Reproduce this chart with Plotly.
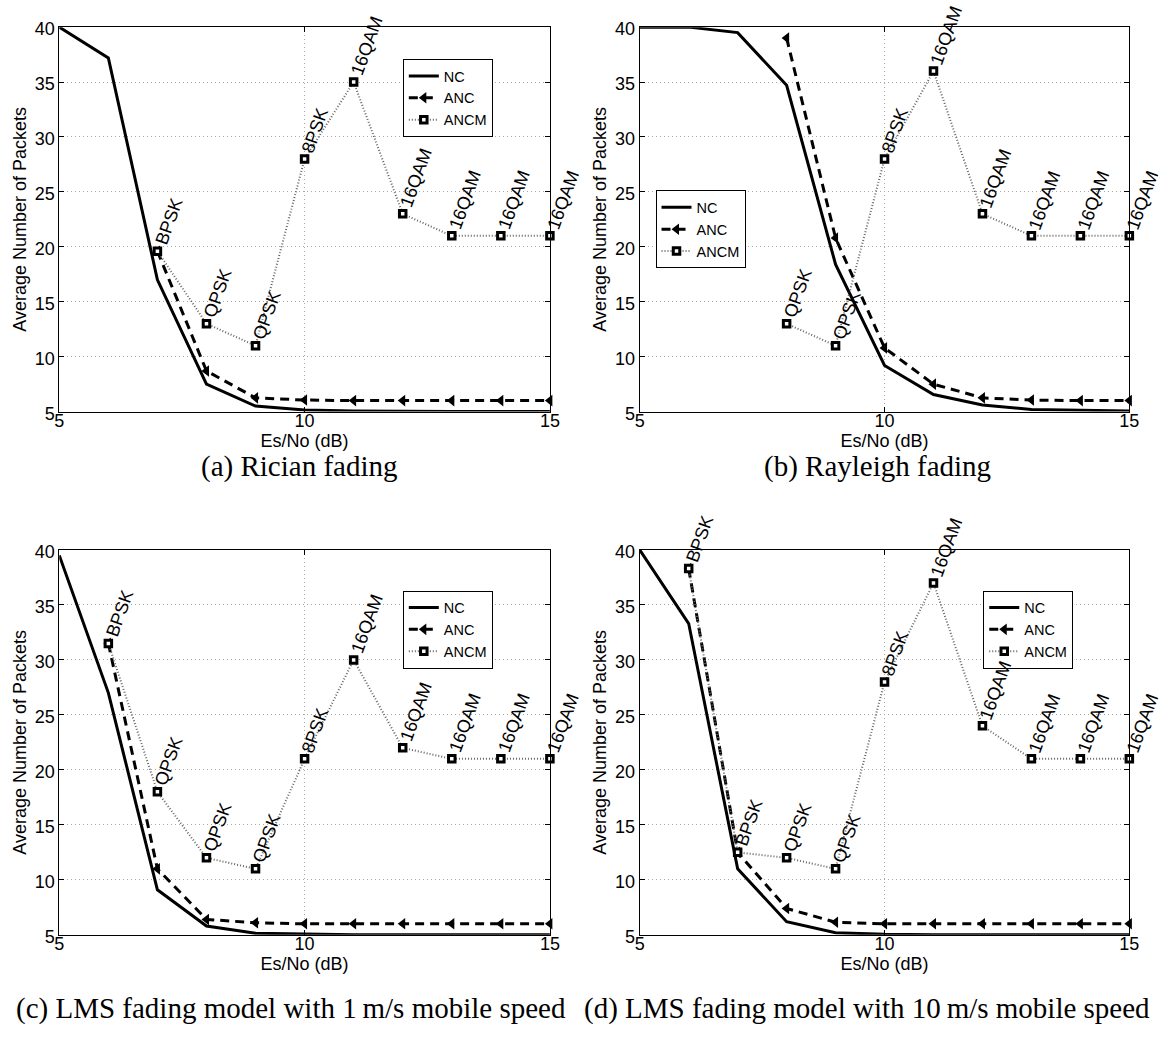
import plotly.graph_objects as go

# Es/No grid (dB)
snr = [5, 6, 7, 8, 9, 10, 11, 12, 13, 14, 15]

# (a) Rician fading
rician_nc = [40, 37.2, 17.0, 7.5, 5.5, 5.15, 5.05, 5.0, 5.0, 5.0, 5.0]
rician_anc_x = [7, 8, 9, 10, 11, 12, 13, 14, 15]
rician_anc = [19.6, 8.7, 6.25, 6.05, 6.0, 6.0, 6.0, 6.0, 6.0]
rician_ancm_x = [7, 8, 9, 10, 11, 12, 13, 14, 15]
rician_ancm = [19.6, 13, 11, 28, 35, 23, 21, 21, 21]
rician_mod = ["BPSK", "QPSK", "QPSK", "8PSK", "16QAM", "16QAM", "16QAM", "16QAM", "16QAM"]

# (b) Rayleigh fading
rayleigh_nc = [40, 40, 39.5, 34.7, 18.4, 9.2, 6.55, 5.6, 5.2, 5.1, 5.05]
rayleigh_anc_x = [8, 9, 10, 11, 12, 13, 14, 15]
rayleigh_anc = [39.0, 20.8, 10.8, 7.5, 6.25, 6.05, 6.0, 6.0]
rayleigh_ancm_x = [8, 9, 10, 11, 12, 13, 14, 15]
rayleigh_ancm = [13, 11, 28, 36, 23, 21, 21, 21]
rayleigh_mod = ["QPSK", "QPSK", "8PSK", "16QAM", "16QAM", "16QAM", "16QAM", "16QAM"]

# (c) LMS, 1 m/s
lms1_nc = [39.5, 27.0, 9.1, 5.8, 5.15, 5.05, 5.0, 5.0, 5.0, 5.0, 5.0]
lms1_anc_x = [6, 7, 8, 9, 10, 11, 12, 13, 14, 15]
lms1_anc = [31.5, 11.0, 6.4, 6.1, 6.0, 6.0, 6.0, 6.0, 6.0, 6.0]
lms1_ancm_x = [6, 7, 8, 9, 10, 11, 12, 13, 14, 15]
lms1_ancm = [31.5, 18, 12, 11, 21, 30, 22, 21, 21, 21]
lms1_mod = ["BPSK", "QPSK", "QPSK", "QPSK", "8PSK", "16QAM", "16QAM", "16QAM", "16QAM", "16QAM"]

# (d) LMS, 10 m/s
lms10_nc = [40, 33.3, 11.0, 6.2, 5.2, 5.05, 5.0, 5.0, 5.0, 5.0, 5.0]
lms10_anc_x = [6, 7, 8, 9, 10, 11, 12, 13, 14, 15]
lms10_anc = [38.3, 12.5, 7.4, 6.15, 6.0, 6.0, 6.0, 6.0, 6.0, 6.0]
lms10_ancm_x = [6, 7, 8, 9, 10, 11, 12, 13, 14, 15]
lms10_ancm = [38.3, 12.5, 12, 11, 28, 37, 24, 21, 21, 21]
lms10_mod = ["BPSK", "BPSK", "QPSK", "QPSK", "8PSK", "16QAM", "16QAM", "16QAM", "16QAM", "16QAM"]

captions = [
    "(a) Rician fading",
    "(b) Rayleigh fading",
    "(c) LMS fading model with 1\u2009m/s mobile speed",
    "(d) LMS fading model with 10\u2009m/s mobile speed",
]

y_ticks = [5, 10, 15, 20, 25, 30, 35, 40]
x_ticks = [5, 10, 15]

W, H = 1166, 1041
SANS = "Liberation Sans, Arial, sans-serif"
SERIF = "Liberation Serif, Times New Roman, serif"

# panel boxes in pixels: (left, right, top, bottom)
panels = [
    (55, 552, 19.5, 411.5),
    (643, 1139, 19.5, 411.5),
    (55, 552, 552.5, 945),
    (643, 1139, 552.5, 945),
]
legend_pos = [(403, 52), (659, 186), (403, 594), (991, 594)]
caption_pos = [(298, 467), (884, 467), (290, 1020), (873, 1020)]

datasets = [
    (rician_nc, rician_anc_x, rician_anc, rician_ancm_x, rician_ancm, rician_mod),
    (rayleigh_nc, rayleigh_anc_x, rayleigh_anc, rayleigh_ancm_x, rayleigh_ancm, rayleigh_mod),
    (lms1_nc, lms1_anc_x, lms1_anc, lms1_ancm_x, lms1_ancm, lms1_mod),
    (lms10_nc, lms10_anc_x, lms10_anc, lms10_ancm_x, lms10_ancm, lms10_mod),
]

fig = go.Figure()
annotations = []
layout = {}

for i, (nc, anc_x, anc, ancm_x, ancm, mods) in enumerate(datasets):
    k = "" if i == 0 else str(i + 1)
    xa, ya = "x" + k, "y" + k
    leg = "legend" + k
    fig.add_trace(go.Scatter(
        x=snr, y=nc, name="NC", mode="lines", xaxis=xa, yaxis=ya, legend=leg,
        line=dict(color="black", width=3), cliponaxis=False))
    fig.add_trace(go.Scatter(
        x=anc_x, y=anc, name="ANC", mode="lines+markers", xaxis=xa, yaxis=ya, legend=leg,
        line=dict(color="black", width=3, dash="9px,6px"),
        marker=dict(symbol="triangle-left", size=10, color="black"), cliponaxis=False))
    fig.add_trace(go.Scatter(
        x=ancm_x, y=ancm, name="ANCM", mode="lines+markers", xaxis=xa, yaxis=ya, legend=leg,
        line=dict(color="#666666", width=2, dash="1px,2px"),
        marker=dict(symbol="square", size=6.5, color="white", line=dict(color="black", width=3)),
        cliponaxis=False))

    for xv, yv, txt in zip(ancm_x, ancm, mods):
        annotations.append(dict(
            x=xv, y=yv, xref=xa, yref=ya, text=txt, showarrow=False,
            textangle=-70, xanchor="left", yanchor="bottom", xshift=-9, yshift=1,
            font=dict(family=SANS, size=18, color="black")))

    l, r, t, b = panels[i]
    axis_common = dict(
        showline=True, linecolor="black", linewidth=1, mirror="ticks",
        ticks="inside", ticklen=5, tickcolor="black", tickwidth=1,
        showgrid=True, gridcolor="#a8a8a8", griddash="1px,3px", gridwidth=1,
        zeroline=False, tickfont=dict(family=SANS, size=18, color="black"),
    )
    layout["xaxis" + k] = dict(
        axis_common, domain=[l / W, r / W], anchor=ya, range=[5, 15], tickvals=x_ticks,
        ticklabelstandoff=-7,
        title=dict(text="Es/No (dB)", font=dict(family=SANS, size=18, color="black"), standoff=0))
    layout["yaxis" + k] = dict(
        axis_common, domain=[1 - b / H, 1 - t / H], anchor=xa, range=[5, 40], tickvals=y_ticks,
        ticklabelstandoff=0, ticklabelshift=2,
        title=dict(text="Average Number of Packets", font=dict(family=SANS, size=18, color="black"),
                   standoff=3))
    lx, ly = legend_pos[i]
    layout[leg] = dict(
        x=lx / W, y=1 - ly / H, xanchor="left", yanchor="top", bgcolor="white",
        bordercolor="black", borderwidth=1, font=dict(family=SANS, size=14.5, color="black"),
        tracegroupgap=0, itemwidth=30)

    cx, cy = caption_pos[i]
    annotations.append(dict(
        x=cx / W, y=1 - cy / H, xref="paper", yref="paper",
        text=captions[i], showarrow=False, xanchor="center", yanchor="middle",
        font=dict(family=SERIF, size=29, color="black")))

fig.update_layout(
    width=W, height=H, margin=dict(l=0, r=0, t=0, b=0),
    paper_bgcolor="white", plot_bgcolor="white", showlegend=True,
    annotations=annotations, **layout)

fig.write_html("out.html")
